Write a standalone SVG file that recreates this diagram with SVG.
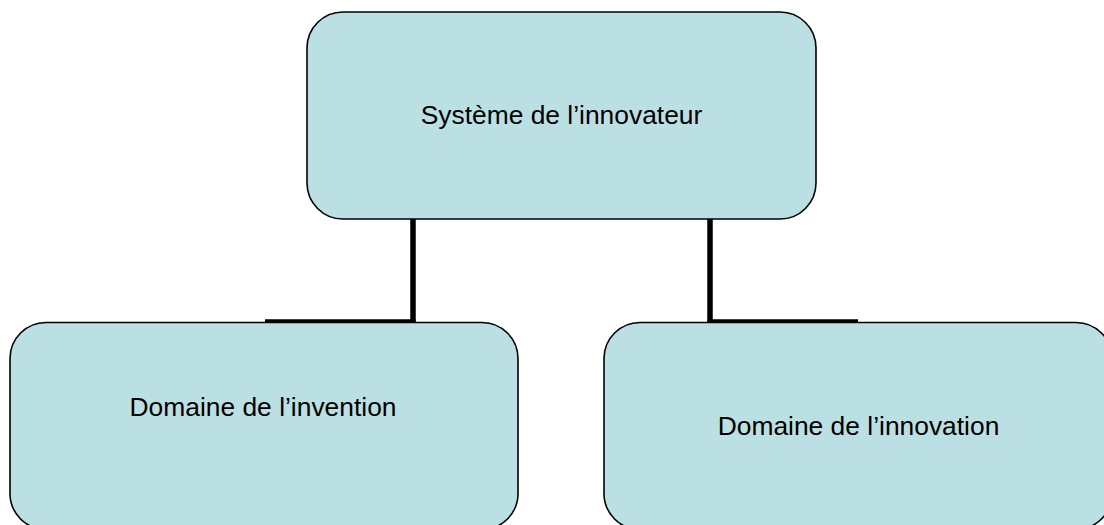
<svg xmlns="http://www.w3.org/2000/svg" width="1104" height="525" viewBox="0 0 1104 525">
<style>
.box{fill:#BBE0E3;stroke:#000;stroke-width:1.6}
.lbl{font-family:"Liberation Sans",Arial,sans-serif;font-size:26.4px;fill:#000;text-anchor:middle}
.conn{stroke:#000;fill:none;stroke-linecap:butt}
</style>
<rect width="1104" height="525" fill="#fff"/>
<g id="node-systeme">
<rect class="box" x="307" y="12" width="509" height="207" rx="36" ry="36"/>
<text class="lbl" x="561.5" y="124">Système de l’innovateur</text>
</g>
<g id="node-invention">
<rect class="box" x="10" y="322.5" width="508" height="207" rx="36" ry="36"/>
<text class="lbl" x="263" y="416">Domaine de l’invention</text>
</g>
<g id="node-innovation">
<rect class="box" x="604" y="322.5" width="508" height="207" rx="36" ry="36"/>
<text class="lbl" x="858.5" y="435">Domaine de l’innovation</text>
</g>
<g id="connectors">
<line class="conn" x1="413" y1="219" x2="413" y2="322.5" stroke-width="5.5"/>
<line class="conn" x1="265" y1="321" x2="415.5" y2="321" stroke-width="3.5"/>
<line class="conn" x1="710" y1="219" x2="710" y2="322.5" stroke-width="5.5"/>
<line class="conn" x1="707.5" y1="321" x2="858" y2="321" stroke-width="3.5"/>
</g>
</svg>
